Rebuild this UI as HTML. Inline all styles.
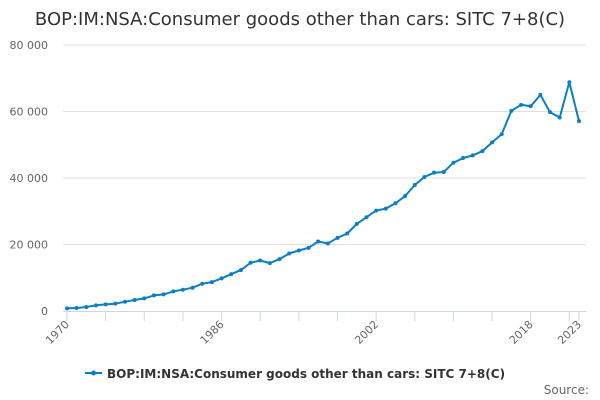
<!DOCTYPE html>
<html><head><meta charset="utf-8"><style>
body{margin:0;background:#fff;}
svg{display:block;font-family:"DejaVu Sans","Liberation Sans",sans-serif;}
</style></head><body>
<svg id="chart" width="600" height="400" viewBox="0 0 600 400">
<text x="300" y="25" text-anchor="middle" font-size="18" fill="#333">BOP:IM:NSA:Consumer goods other than cars: SITC 7+8(C)</text>
<g id="grid"></g>
<g id="yaxis"></g>
<g id="xaxis"></g>
<g id="series"></g>
<g>
<line x1="85" y1="373" x2="102" y2="373" stroke="#0b7ec4" stroke-width="2"/>
<circle cx="93.5" cy="373" r="2.5" fill="#0b7ec4"/>
<text x="107" y="378" font-size="12" font-weight="bold" fill="#333">BOP:IM:NSA:Consumer goods other than cars: SITC 7+8(C)</text>
</g>
<text x="589" y="394" text-anchor="end" font-size="12" fill="#666">Source:</text>
</svg>
<script>
const years = [];
for (let y = 1970; y <= 2023; y++) years.push(y);
const values = [800,900,1200,1700,2000,2200,2800,3300,3800,4700,5000,5900,6400,7000,8200,8700,9800,11100,12300,14500,15200,14400,15600,17300,18200,19000,20900,20300,22000,23300,26200,28200,30200,30800,32400,34600,37900,40300,41600,41800,44600,46000,46800,48100,50700,53200,60200,62000,61600,65000,59800,58200,68800,57100];
const yTicks = [0,20000,40000,60000,80000];
const yTickLabels = ["0","20 000","40 000","60 000","80 000"];
const xLabelYears = [1970,1986,2002,2018,2023];

const NS = "http://www.w3.org/2000/svg";
const x0 = 67, x1 = 579, yBase = 311, yTop = 45;
const xs = yr => x0 + (yr - 1970) * (x1 - x0) / (2023 - 1970);
const ys = v => yBase - v * (yBase - yTop) / 80000;
function mk(tag, attrs, parent) { const e = document.createElementNS(NS, tag); for (const k in attrs) e.setAttribute(k, attrs[k]); parent.appendChild(e); return e; }

const grid = document.getElementById('grid'), yaxis = document.getElementById('yaxis'), xaxis = document.getElementById('xaxis'), series = document.getElementById('series');
yTicks.forEach((t, i) => {
  if (t > 0) {
    const l = mk('line', {x1: 63, x2: 586, y1: ys(t), y2: ys(t), stroke: '#e0e0e0', 'stroke-width': 1}, grid);
    
    
  }
  const tx = mk('text', {x: 48, y: ys(t) + 4, 'text-anchor': 'end', 'font-size': 11, fill: '#666'}, yaxis);
  tx.textContent = yTickLabels[i];
  
  
});
mk('line', {x1: 63, x2: 586, y1: yBase + 0.5, y2: yBase + 0.5, stroke: '#ccd6eb', 'stroke-width': 1}, xaxis);
const tickYears = [];
for (let y = 1970; y <= 2022; y += 4) tickYears.push(y);
tickYears.push(2023);
tickYears.forEach(y => {
  const t = mk('line', {x1: xs(y), x2: xs(y), y1: yBase, y2: yBase + 10, stroke: '#ccd6eb', 'stroke-width': 1}, xaxis);
  
  
});
xLabelYears.forEach(y => {
  const x = xs(y) + 3, yy = yBase + 14;
  const tx = mk('text', {x: x, y: yy, 'text-anchor': 'end', 'font-size': 11, fill: '#666', transform: `rotate(-45 ${x} ${yy})`}, xaxis);
  tx.textContent = y;
  
  
});
const pts = years.map((y, i) => xs(y).toFixed(1) + ',' + ys(values[i]).toFixed(1)).join(' ');
const line = mk('polyline', {points: pts, fill: 'none', stroke: '#0b7ec4', 'stroke-width': 2, 'stroke-linejoin': 'round'}, series);


years.forEach((y, i) => {
  const c = mk('circle', {cx: xs(y), cy: ys(values[i]), r: 2, fill: '#0b7ec4'}, series);
  
  
});
</script>
</body></html>
